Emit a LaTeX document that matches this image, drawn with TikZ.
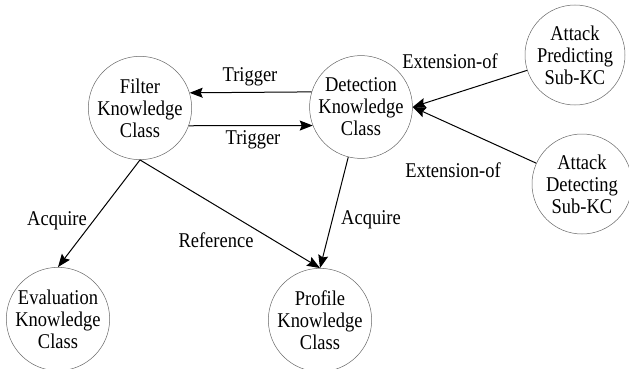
\documentclass[tikz,border=0pt]{standalone}
\usepackage{fontspec}
\setmainfont{Liberation Serif}[FakeStretch=0.88]
\usetikzlibrary{arrows.meta}

\tikzset{
  kc/.style={circle, draw=black!60, line width=0.5pt, minimum size=100pt, inner sep=0pt,
    align=center, font=\fontsize{21}{22}\selectfont},
  lbl/.style={inner sep=0pt, font=\fontsize{21}{22}\selectfont},
  arr/.style={line width=1pt, -{Stealth[length=13pt,width=10pt,inset=2pt]}}
}

\begin{document}
\begin{tikzpicture}[x=1pt, y=-1pt]
    \useasboundingbox (0,0) rectangle (629,369);
    % knowledge classes
    \node [kc] (filter) at (140,108) {Filter\\Knowledge\\Class};
    \node [kc] (detect) at (361,107) {Detection\\Knowledge\\Class};
    \node [kc] (eval) at (58,319) {Evaluation\\Knowledge\\Class};
    \node [kc] (profile) at (320,320) {Profile\\Knowledge\\Class};
    \node [kc] (predict) at (575,55) {Attack\\Predicting\\Sub-KC};
    \node [kc] (detsub) at (582,184) {Attack\\Detecting\\Sub-KC};
    % connectors
    \draw [arr] (detect.163) -- (filter.17);
    \draw [arr] (filter.-20) -- (detect.201);
    \draw [arr] (predict) -- (detect.east);
    \draw [arr] (detsub) -- (detect.east);
    \draw [arr] (filter.south) -- (eval.north);
    \draw [arr] (filter.south) -- (profile.north);
    \draw [arr] (detect) -- (profile.north);
    % labels
    \node [lbl] (trig1) at (250,77) {Trigger};
    \node [lbl] (trig2) at (253,140) {Trigger};
    \node [lbl] (ext1) at (450,61) {Extension-of};
    \node [lbl] (ext2) at (453,170) {Extension-of};
    \node [lbl] (acq1) at (57,221) {Acquire};
    \node [lbl] (ref) at (216,240) {Reference};
    \node [lbl] (acq2) at (371,220) {Acquire};
\end{tikzpicture}
\end{document}
